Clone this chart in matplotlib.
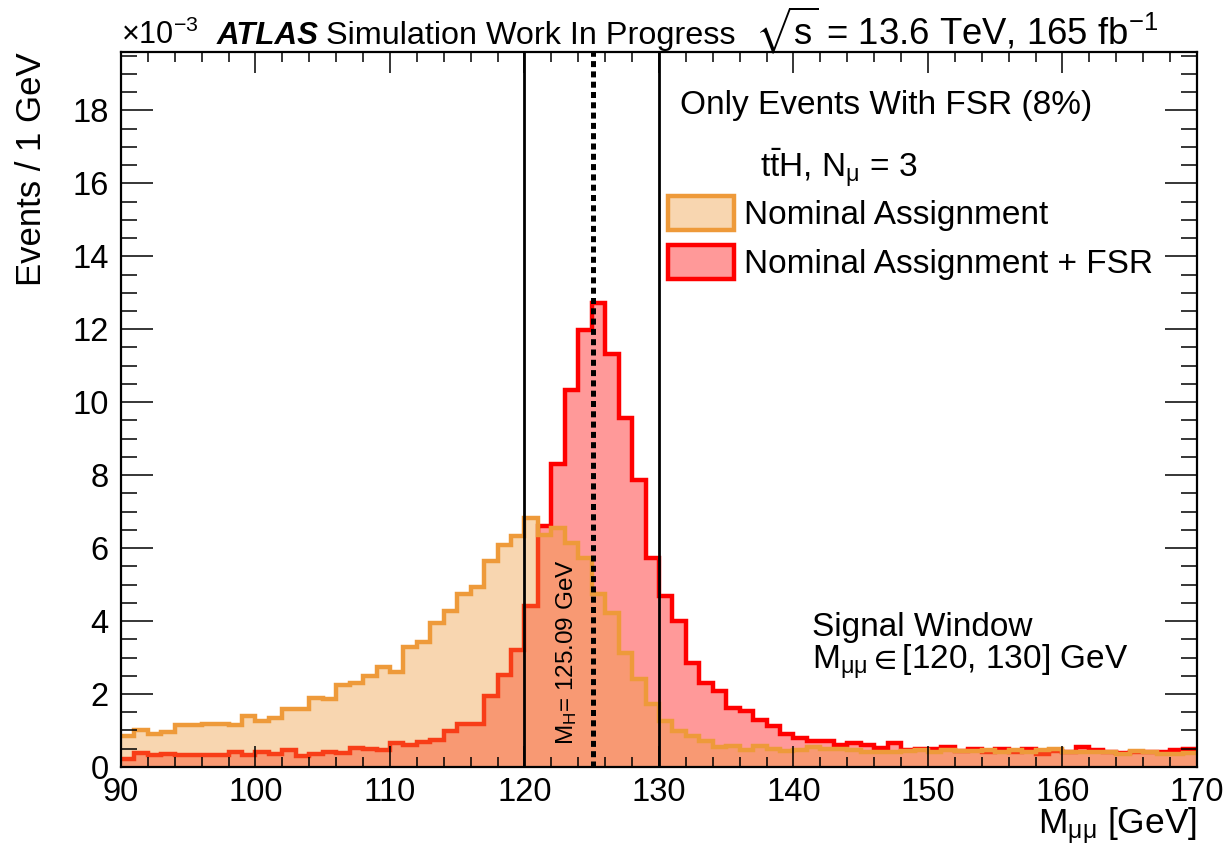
import numpy as np
import matplotlib
matplotlib.use('Agg')
import matplotlib.pyplot as plt
from matplotlib.patches import Patch
from matplotlib.ticker import MultipleLocator

plt.rcParams['font.family'] = ['Liberation Sans', 'DejaVu Sans']
plt.rcParams['mathtext.fontset'] = 'custom'
plt.rcParams['mathtext.rm'] = 'Liberation Sans'
plt.rcParams['mathtext.it'] = 'Liberation Sans:italic'
plt.rcParams['mathtext.bf'] = 'Liberation Sans:bold'
plt.rcParams['mathtext.fallback'] = 'stixsans'

# bin edges of the M_mumu histogram, 1 GeV bins from 90 to 170
edges = np.arange(90, 171, 1)

# events / 1 GeV in units of 1e-3, nominal muon assignment
nominal = [0.84, 1.00, 0.91, 0.96, 1.14, 1.14, 1.17, 1.19, 1.14, 1.39,
           1.25, 1.34, 1.58, 1.58, 1.89, 1.87, 2.25, 2.31, 2.48, 2.73,
           2.60, 3.28, 3.42, 3.96, 4.28, 4.75, 4.94, 5.65, 6.08, 6.34,
           6.83, 6.35, 6.55, 6.14, 5.72, 4.75, 4.21, 3.13, 2.40, 1.72,
           1.27, 0.98, 0.85, 0.72, 0.55, 0.58, 0.46, 0.58, 0.49, 0.45,
           0.47, 0.56, 0.48, 0.48, 0.47, 0.40, 0.40, 0.42, 0.44, 0.47,
           0.40, 0.47, 0.44, 0.44, 0.46, 0.40, 0.46, 0.40, 0.47, 0.49,
           0.40, 0.42, 0.40, 0.42, 0.36, 0.44, 0.40, 0.36, 0.36, 0.37]

# nominal assignment + FSR recovery
with_fsr = [0.23, 0.39, 0.34, 0.36, 0.32, 0.32, 0.34, 0.32, 0.41, 0.34,
            0.41, 0.36, 0.46, 0.29, 0.35, 0.41, 0.37, 0.52, 0.48, 0.46,
            0.67, 0.59, 0.68, 0.73, 0.98, 1.19, 1.19, 1.95, 2.53, 3.20,
            4.42, 6.60, 8.30, 10.33, 11.97, 12.71, 11.33, 9.57, 7.86, 5.73,
            4.68, 3.99, 2.85, 2.30, 2.08, 1.62, 1.53, 1.30, 1.11, 0.90,
            0.80, 0.71, 0.70, 0.60, 0.65, 0.61, 0.51, 0.65, 0.47, 0.49,
            0.49, 0.54, 0.45, 0.50, 0.42, 0.50, 0.40, 0.50, 0.36, 0.45,
            0.42, 0.54, 0.47, 0.42, 0.38, 0.42, 0.40, 0.42, 0.47, 0.49]

window = [120, 130]
m_higgs = 125.09

orange = '#EE9A3A'
red = '#FF0000'

fig = plt.figure(figsize=(12.26, 8.47), dpi=100)
ax = fig.add_axes([0.0987, 0.0945, 0.8776, 0.8441])

# red first, then the semi transparent orange on top (like the ROOT drawing order)
ax.stairs(with_fsr, edges, fill=True, color=red, alpha=0.4, lw=0)
ax.stairs(with_fsr, edges, color=red, lw=3.2, baseline=None)
ax.stairs(nominal, edges, fill=True, color=orange, alpha=0.4, lw=0)
ax.stairs(nominal, edges, color=orange, lw=3.2, baseline=None)

for w in window:
    ax.axvline(w, color='black', lw=2.0)
ax.axvline(m_higgs, color='black', lw=3.6, linestyle=(0, (1.2, 0.86)))

ax.set_xlim(90, 170)
ax.set_ylim(0, 19.6)
ax.xaxis.set_major_locator(MultipleLocator(10))
ax.xaxis.set_minor_locator(MultipleLocator(2))
ax.yaxis.set_major_locator(MultipleLocator(2))
ax.yaxis.set_minor_locator(MultipleLocator(0.5))
ax.tick_params(which='both', direction='in', top=True, right=True, width=1.1,
               labelsize=23.5)
ax.tick_params(axis='x', which='major', length=15, pad=7)
ax.tick_params(axis='x', which='minor', length=7.5)
ax.tick_params(axis='y', which='major', length=23, pad=9)
ax.tick_params(axis='y', which='minor', length=11.5)
for s in ax.spines.values():
    s.set_linewidth(1.6)

ax.set_xlabel(r'M$_{\mathrm{μμ}}$ [GeV]', fontsize=25.5, loc='right', labelpad=-2)
ax.set_ylabel('Events / 1 GeV', fontsize=25, loc='top', labelpad=17)

# header line
fig.text(0.099, 0.948, r'$\times$10$^{-3}$', fontsize=22, ha='left', va='baseline')
fig.text(0.177, 0.948, 'ATLAS', fontsize=22.5, fontweight='bold', fontstyle='italic',
         ha='left', va='baseline')
fig.text(0.266, 0.948, 'Simulation Work In Progress', fontsize=23.3, ha='left', va='baseline')
fig.text(0.616, 0.948, r'$\sqrt{\mathrm{s}}$ = 13.6 TeV, 165 fb$^{-1}$', fontsize=26.3,
         ha='left', va='baseline')

ax.text(0.520, 0.925, 'Only Events With FSR (8%)', transform=ax.transAxes, fontsize=24,
        ha='left', va='center')
ax.text(0.594, 0.825, r'$\mathrm{t\bar{t}}$H, N$_{\mathrm{μ}}$ = 3', transform=ax.transAxes,
        fontsize=24, ha='left', va='baseline')

handles = [Patch(facecolor=(0.933, 0.604, 0.227, 0.4), edgecolor=orange, lw=3.2,
                 label='Nominal Assignment'),
           Patch(facecolor=(1, 0, 0, 0.4), edgecolor=red, lw=3.2,
                 label='Nominal Assignment + FSR')]
ax.legend(handles=handles, loc='upper left', bbox_to_anchor=(0.508, 0.799), frameon=False,
          fontsize=24, handlelength=2.0, handleheight=1.2, handletextpad=0.3,
          labelspacing=0.42, borderaxespad=0, borderpad=0)

ax.text(0.642, 0.183, 'Signal Window', transform=ax.transAxes, fontsize=24,
        ha='left', va='baseline')
ax.text(0.642, 0.1357, r'M$_{\mathrm{μμ}}$$\in$[120, 130] GeV', transform=ax.transAxes,
        fontsize=24, ha='left', va='baseline')

ax.text(m_higgs - 1.93, 0.6, r'M$_{\mathrm{H}}$= 125.09 GeV', rotation=90, fontsize=17.5,
        ha='center', va='bottom')

fig.savefig('out.png', dpi=100)
